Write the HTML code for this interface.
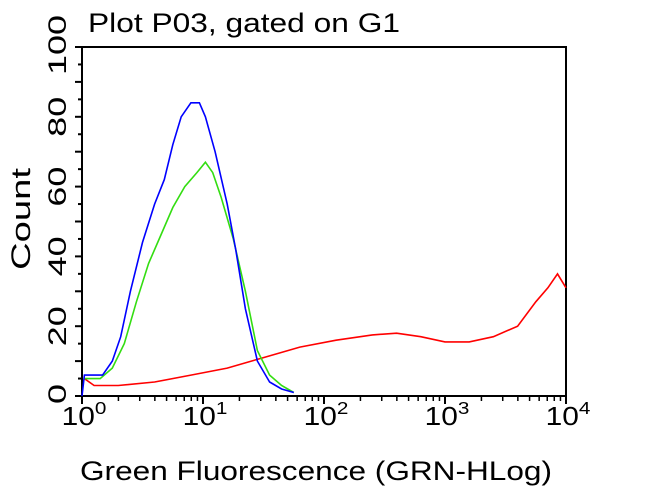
<!DOCTYPE html>
<html><head><meta charset="utf-8"><style>
html,body{margin:0;padding:0;background:#fff;}
svg{display:block;font-family:"Liberation Sans","DejaVu Sans",sans-serif;}
</style></head><body>
<svg id="chart" width="650" height="488" viewBox="0 0 650 488" xmlns="http://www.w3.org/2000/svg">
<text x="88" y="32" font-size="27" fill="#000" textLength="312" lengthAdjust="spacingAndGlyphs">Plot P03, gated on G1</text>
<text x="80" y="480" font-size="27" fill="#000" textLength="472" lengthAdjust="spacingAndGlyphs">Green Fluorescence (GRN-HLog)</text>
<text transform="translate(30,270) rotate(-90)" font-size="27" fill="#000" textLength="102" lengthAdjust="spacingAndGlyphs">Count</text>
<g id="axes"></g>
<g id="series"></g>
</svg>
<script>
const xTickExps=[0,1,2,3,4];
const yTickValues=[0,20,40,60,80,100];
const blueLogX=[0,0.02,0.1,0.17,0.25,0.32,0.4,0.5,0.6,0.68,0.75,0.82,0.9,0.97,1.02,1.1,1.2,1.27,1.35,1.45,1.55,1.65,1.75];
const blueY=[0,6,6,6,10,17,30,44,55,62,72,80,84,84,80,70,55,42,25,10,4,2,1];
const greenLogX=[0.02,0.15,0.25,0.35,0.45,0.55,0.65,0.75,0.85,0.95,1.02,1.08,1.15,1.25,1.35,1.45,1.55,1.65,1.75];
const greenY=[5,5,8,15,27,38,46,54,60,64,67,64,57,45,30,13,6,3,1];
const redLogX=[0.02,0.1,0.3,0.6,0.9,1.2,1.5,1.8,2.1,2.4,2.6,2.8,3.0,3.2,3.4,3.6,3.75,3.85,3.93,4.0];
const redY=[5,3,3,4,6,8,11,14,16,17.5,18,17,15.5,15.5,17,20,27,31,35,31];

const X0=82,X1=566,Y0=396,Y100=47;
const xs=l=>X0+(X1-X0)*l/4;
const ys=v=>Y0+(Y100-Y0)*v/100;
const NS="http://www.w3.org/2000/svg";
const axes=document.getElementById('axes');
function mk(tag,attrs,parent){const e=document.createElementNS(NS,tag);for(const k in attrs)e.setAttribute(k,attrs[k]);parent.appendChild(e);return e;}

const frame=mk('rect',{x:X0,y:Y100,width:X1-X0,height:Y0-Y100,fill:'none',stroke:'#000','stroke-width':2},axes);



for(let v=0;v<=100;v+=5){
  const major=v%10===0;
  const t=mk('line',{x1:major?X0-7:X0-4,x2:X0,y1:ys(v),y2:ys(v),stroke:'#000','stroke-width':2},axes);
  
  
}
yTickValues.forEach(v=>{
  const s=String(v);
  const len=s.length*20;
  let cy=ys(v);
  if(v===100) cy=45;
  if(v===0) cy=ys(0)-2;
  const lb=mk('text',{transform:`translate(66,${cy}) rotate(-90)`,'font-size':25,'text-anchor':'middle',fill:'#000',textLength:len,lengthAdjust:'spacingAndGlyphs'},axes);
  lb.textContent=s;
  
  
});

xTickExps.forEach(e=>{
  const x=xs(e);
  const t=mk('line',{x1:x,x2:x,y1:Y0,y2:Y0+8,stroke:'#000','stroke-width':2},axes);
  
  
  if(e<4){for(let k=2;k<10;k++){const mx=xs(e+Math.log10(k));
    const m=mk('line',{x1:mx,x2:mx,y1:Y0,y2:Y0+5,stroke:'#000','stroke-width':1.5},axes);
    
    }}
  const lb=mk('text',{transform:`translate(${x+2},425) scale(1.15,1)`,'font-size':26,'text-anchor':'middle',fill:'#000'},axes);
  lb.innerHTML='10<tspan dy="-11" font-size="18">'+e+'</tspan>';
  
  
});

const ser=document.getElementById('series');
function line(lx,ly,color,name){
  const d=lx.map((l,i)=>(i?'L':'M')+xs(l).toFixed(1)+','+ys(ly[i]).toFixed(1)).join(' ');
  const p=mk('path',{d:d,fill:'none',stroke:color,'stroke-width':1.6},ser);
  
  
}
line(redLogX,redY,'#ff0000','red-histogram');
line(greenLogX,greenY,'#33dd11','green-histogram');
line(blueLogX,blueY,'#0000ff','blue-histogram');
</script>
</body></html>
